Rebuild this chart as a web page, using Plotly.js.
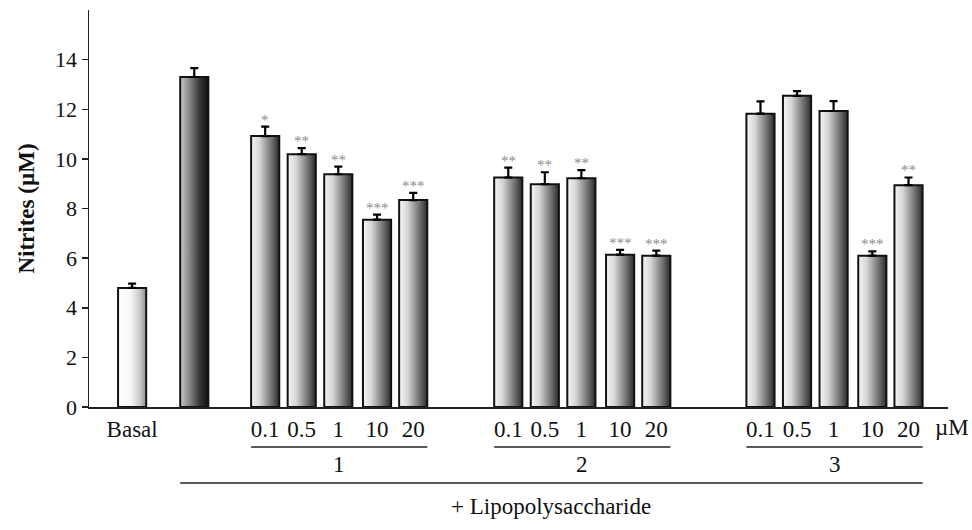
<!DOCTYPE html>
<html>
<head>
<meta charset="utf-8">
<script src="https://cdn.plot.ly/plotly-3.0.1.min.js"></script>
<style>
  html, body { margin: 0; padding: 0; background: #fff; }
  #chart { width: 972px; height: 530px; }
</style>
</head>
<body>
<div id="chart"></div>
<script>
// ---------------- DATA ----------------
const basalLabel = 'Basal';
const basalValue = [4.8];
const basalError = [0.17];

const lpsValue = [13.3];
const lpsError = [0.36];

const doseLabels = ['0.1', '0.5', '1', '10', '20'];
const compoundLabels = ['1', '2', '3'];

const compound1Values = [10.92, 10.19, 9.38, 7.55, 8.34];
const compound1Errors = [0.38, 0.24, 0.31, 0.20, 0.29];
const compound1Sig = ['*', '**', '**', '***', '***'];

const compound2Values = [9.25, 8.98, 9.22, 6.14, 6.10];
const compound2Errors = [0.40, 0.48, 0.33, 0.19, 0.20];
const compound2Sig = ['**', '**', '**', '***', '***'];

const compound3Values = [11.82, 12.54, 11.93, 6.10, 8.94];
const compound3Errors = [0.50, 0.19, 0.40, 0.17, 0.31];
const compound3Sig = ['', '', '', '***', '**'];

const yTickValues = [0, 2, 4, 6, 8, 10, 12, 14];
const yTitle = 'Nitrites (µM)';
const unitLabel = 'µM';
const lpsLabel = '+ Lipopolysaccharide';

// ---------------- LAYOUT (positions along x axis) ----------------
const basalPos = 1.18;
const lpsPos = 2.88;
const groupStart = [4.82, 11.47, 18.37];
const doseOffset = [0, 1, 2, 3.06, 4.05];
const barW = 0.77;
const xMax = 23.5;

const compValues = [compound1Values, compound2Values, compound3Values];
const compErrors = [compound1Errors, compound2Errors, compound3Errors];
const compSig = [compound1Sig, compound2Sig, compound3Sig];

const treatX = [], treatY = [], treatE = [], treatSig = [];
compValues.forEach((vals, g) => {
  vals.forEach((v, i) => {
    treatX.push(groupStart[g] + doseOffset[i]);
    treatY.push(v);
    treatE.push(compErrors[g][i]);
    treatSig.push(compSig[g][i]);
  });
});

const errStyle = (arr) => ({
  type: 'data', symmetric: false, array: arr,
  arrayminus: arr.map(() => 0), color: '#000', thickness: 2.2, width: 4
});
const barLine = { color: '#111', width: 2 };

const traces = [
  { type: 'bar', x: [basalPos], y: basalValue, width: barW,
    marker: { color: '#ddd', line: barLine }, error_y: errStyle(basalError),
    hoverinfo: 'y' },
  { type: 'bar', x: [lpsPos], y: lpsValue, width: barW,
    marker: { color: '#555', line: barLine }, error_y: errStyle(lpsError),
    hoverinfo: 'y' },
  { type: 'bar', x: treatX, y: treatY, width: barW,
    marker: { color: '#999', line: barLine }, error_y: errStyle(treatE),
    hoverinfo: 'y' }
];

const tickVals = [basalPos];
const tickText = [basalLabel];
groupStart.forEach(gs => doseOffset.forEach((o, i) => {
  tickVals.push(gs + o); tickText.push(doseLabels[i]);
}));

const serif = "'Liberation Serif', 'Times New Roman', Times, serif";
const annotations = [];
treatX.forEach((x, i) => {
  if (!treatSig[i]) return;
  annotations.push({
    x: x, y: treatY[i] + treatE[i], xref: 'x', yref: 'y',
    text: treatSig[i], showarrow: false, yanchor: 'bottom', yshift: -3,
    font: { family: serif, size: 15, color: '#8a8a8a' }
  });
});

const plotH = 397;
const pxToPaperY = (px) => -px / plotH;
const shapes = [];
groupStart.forEach((gs, g) => {
  const x0 = gs + doseOffset[0] - barW / 2;
  const x1 = gs + doseOffset[doseOffset.length - 1] + barW / 2;
  shapes.push({ type: 'line', xref: 'x', yref: 'paper', x0: x0, x1: x1,
    y0: pxToPaperY(40), y1: pxToPaperY(40), line: { color: '#222', width: 1.5 } });
  annotations.push({ x: (x0 + x1) / 2, y: pxToPaperY(58), xref: 'x', yref: 'paper',
    text: compoundLabels[g], showarrow: false, yanchor: 'middle',
    font: { family: serif, size: 23, color: '#111' } });
});
const longX0 = lpsPos - barW / 2;
const longX1 = groupStart[2] + doseOffset[4] + barW / 2;
shapes.push({ type: 'line', xref: 'x', yref: 'paper', x0: longX0, x1: longX1,
  y0: pxToPaperY(76), y1: pxToPaperY(76), line: { color: '#222', width: 1.5 } });
annotations.push({ x: (longX0 + longX1) / 2, y: pxToPaperY(100), xref: 'x', yref: 'paper',
  text: lpsLabel, showarrow: false, yanchor: 'middle',
  font: { family: serif, size: 23, color: '#111' } });
annotations.push({ x: 0.9825, y: pxToPaperY(20), xref: 'paper', yref: 'paper',
  text: unitLabel, showarrow: false, xanchor: 'left', yanchor: 'middle',
  font: { family: serif, size: 23, color: '#111' } });

const layout = {
  width: 972, height: 530,
  margin: { l: 89, r: 24, t: 10, b: 123 },
  paper_bgcolor: '#fff', plot_bgcolor: '#fff',
  showlegend: false,
  bargap: 0,
  xaxis: {
    range: [0, xMax], showgrid: false, zeroline: false,
    showline: true, linecolor: '#222', linewidth: 1.5,
    ticks: '', tickvals: tickVals, ticktext: tickText,
    ticklabelstandoff: 1,
    tickfont: { family: serif, size: 23, color: '#111' }, fixedrange: true
  },
  yaxis: {
    range: [0, 16], showgrid: false, zeroline: false,
    showline: true, linecolor: '#222', linewidth: 1.5,
    ticks: 'outside', ticklen: 6, tickwidth: 1.5, tickcolor: '#222',
    tickvals: yTickValues,
    tickfont: { family: serif, size: 22, color: '#111' },
    title: { text: '<b>' + yTitle + '</b>', standoff: 14,
      font: { family: serif, size: 23, color: '#111' } },
    fixedrange: true
  },
  annotations: annotations,
  shapes: shapes
};

const gd = document.getElementById('chart');
Plotly.newPlot(gd, traces, layout, { displayModeBar: false, staticPlot: true }).then(() => {
  const svg = gd.querySelector('svg.main-svg');
  const NS = 'http://www.w3.org/2000/svg';
  let defs = svg.querySelector('defs');
  if (!defs) { defs = document.createElementNS(NS, 'defs'); svg.insertBefore(defs, svg.firstChild); }
  const grads = {
    gBasal: [[0, '#ffffff'], [0.45, '#f6f6f6'], [0.8, '#c4c4c4'], [1, '#8a8a8a']],
    gLps: [[0, '#c8c8c8'], [0.3, '#8e8e8e'], [0.7, '#333333'], [1, '#101010']],
    gTreat: [[0, '#f6f6f6'], [0.3, '#d6d6d6'], [0.75, '#6a6a6a'], [1, '#2a2a2a']]
  };
  Object.keys(grads).forEach(id => {
    const lg = document.createElementNS(NS, 'linearGradient');
    lg.setAttribute('id', id);
    lg.setAttribute('x1', '0'); lg.setAttribute('y1', '0');
    lg.setAttribute('x2', '1'); lg.setAttribute('y2', '0');
    grads[id].forEach(([o, c]) => {
      const s = document.createElementNS(NS, 'stop');
      s.setAttribute('offset', o);
      s.setAttribute('stop-color', c);
      lg.appendChild(s);
    });
    defs.appendChild(lg);
  });
  const ids = ['gBasal', 'gLps', 'gTreat'];
  gd.querySelectorAll('.barlayer .trace').forEach((tr, k) => {
    tr.querySelectorAll('.point path').forEach(p => {
      p.style.fill = 'url(#' + ids[k] + ')';
    });
  });
});
</script>
</body>
</html>
